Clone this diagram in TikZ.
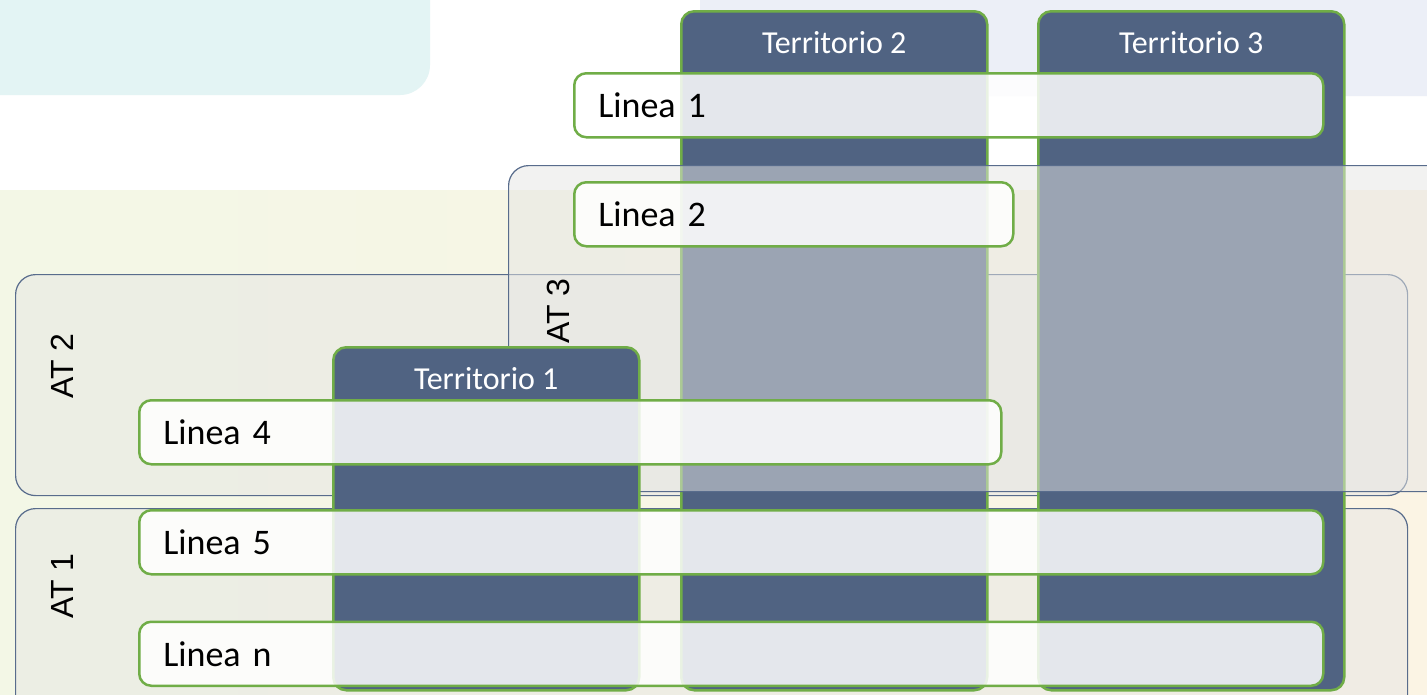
\documentclass[tikz,border=0pt]{standalone}
\usepackage{fontspec}
\setmainfont{Carlito}
\newfontfamily\arealabelfont{Liberation Sans}
\usetikzlibrary{positioning}
\definecolor{colfill}{RGB}{80,99,130}
\definecolor{colgreen}{RGB}{112,173,71}
\definecolor{areafill}{RGB}{230,230,228}
\definecolor{areadraw}{RGB}{88,108,140}
\definecolor{bgcyan}{RGB}{227,244,244}
\definecolor{bglav}{RGB}{236,239,247}
\definecolor{bgleft}{RGB}{243,247,230}
\definecolor{bgright}{RGB}{251,244,228}
\tikzset{area/.style={draw=areadraw,line width=1.2pt,fill=areafill,fill opacity=0.5,rounded corners=20pt,anchor=north west,inner sep=0pt}}
\tikzset{arealabel/.style={rotate=90,inner sep=0pt,font=\arealabelfont\fontsize{32}{34}\selectfont}}
\tikzset{column/.style={draw=colgreen,line width=2.5pt,fill=colfill,rounded corners=13pt,anchor=north west,minimum width=306pt,inner sep=0pt}}
\tikzset{colhead/.style={text=white,inner sep=0pt,font=\fontsize{32}{35}\selectfont}}
\tikzset{linebox/.style={draw=colgreen,line width=2.5pt,fill=white,fill opacity=0.85,text opacity=1,rounded corners=12pt,anchor=north west,minimum height=64pt,inner xsep=24pt,align=left,font=\fontsize{36}{40}\selectfont}}

\begin{document}
\begin{tikzpicture}[x=1pt,y=-1pt]
    \useasboundingbox (0,0) rectangle (1427,694);
    \clip (0,0) rectangle (1427,694);
    \fill[white] (0,0) rectangle (1427,694);
    \fill[bgcyan,rounded corners=30pt] (-40,-40) rectangle (430,95);
    \fill[bglav,rounded corners=30pt] (700,-40) rectangle (1467,96);
    \shade[left color=bgleft,right color=bgright] (0,190) rectangle (1427,694);

    \node[area,minimum width=1392pt,minimum height=250pt] (at1) at (15,508) {};
    \node[arealabel] (at1lbl) at (62,586) {AT 1};
    \node[area,minimum width=1392pt,minimum height=221pt] (at2) at (15,274) {};
    \node[arealabel] (at2lbl) at (62,366) {AT 2};

    \node[column,minimum height=679pt] (t2) at (680,10) {};
    \node[colhead,below=21pt of t2.north] (t2lbl) {Territorio 2};
    \node[column,minimum height=679pt] (t3) at (1037,10) {};
    \node[colhead,below=21pt of t3.north] (t3lbl) {Territorio 3};

    \node[area,minimum width=1000pt,minimum height=326pt] (at3) at (508,165) {};
    \node[arealabel] (at3lbl) at (558,311) {AT 3};

    \node[column,minimum height=343pt] (t1) at (332,346) {};
    \node[colhead,below=21pt of t1.north] (t1lbl) {Territorio 1};

    \node[linebox,text width=701pt] (l1) at (573,72) {Linea 1};
    \node[linebox,text width=391pt] (l2) at (573,181) {Linea 2};
    \node[linebox,text width=814pt] (l4) at (138,399) {Linea 4};
    \node[linebox,text width=1136pt] (l5) at (138,509) {Linea 5};
    \node[linebox,text width=1136pt,below right=45pt and 0pt of l5.south west] (ln) {Linea n};
\end{tikzpicture}
\end{document}
